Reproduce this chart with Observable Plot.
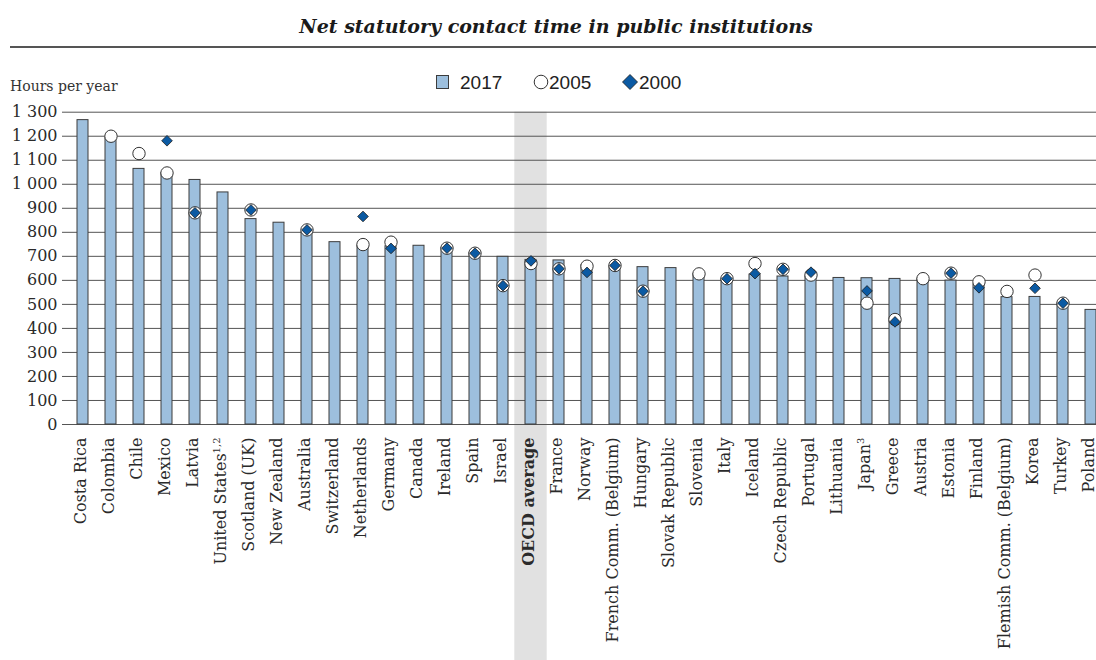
<!DOCTYPE html>
<html><head><meta charset="utf-8">
<script src="https://cdn.jsdelivr.net/npm/d3@7"></script>
<script src="https://cdn.jsdelivr.net/npm/@observablehq/plot@0.6"></script>
<style>
body{margin:0;background:#fff;}
#head svg, #chart svg{display:block}
</style>
</head><body>
<div id="head"></div>
<div id="chart"></div>
<script>
const countries = ["Costa Rica","Colombia","Chile","Mexico","Latvia","United States","Scotland (UK)","New Zealand","Australia","Switzerland","Netherlands","Germany","Canada","Ireland","Spain","Israel","OECD average","France","Norway","French Comm. (Belgium)","Hungary","Slovak Republic","Slovenia","Italy","Iceland","Czech Republic","Portugal","Lithuania","Japan","Greece","Austria","Estonia","Finland","Flemish Comm. (Belgium)","Korea","Turkey","Poland"];
const notes = ["","","","","","1,2","","","","","","","","","","","","","","","","","","","","","","","3","","","","","","","",""];
const v2017 = [1267,1192,1064,1047,1018,966,855,840,800,759,745,742,744,735,713,698,685,683,663,660,655,651,627,607,624,616,616,610,609,606,607,599,583,530,531,504,477];
const v2005 = [null,1200,1128,1047,881,null,893,null,810,null,749,759,null,734,713,578,670,648,659,662,555,null,627,607,670,646,622,null,505,437,607,630,594,554,622,505,null];
const v2000 = [null,null,null,1181,881,null,893,null,810,null,866,733,null,734,713,578,681,648,633,662,555,null,null,607,628,646,634,null,556,427,null,630,569,null,567,505,null];
const yTicks = [0,100,200,300,400,500,600,700,800,900,1000,1100,1200,1300];
const legendLabels = ["2017","2005","2000"];
const subtitle = "Net statutory contact time in public institutions";
const yUnit = "Hours per year";
const highlight = "OECD average";

const barFill = "#9dbfdd", barStroke = "#3c3c3c", diamondFill = "#0b5aa3";

// Header (subtitle, rule, legend, unit)
const head = d3.select("#head").append("svg").attr("width",1096).attr("height",100);
head.append("text").attr("x",556).attr("y",33).attr("text-anchor","middle")
  .attr("font-family","DejaVu Serif").attr("font-weight","bold").attr("font-style","italic")
  .attr("font-size",19).attr("fill","#1a1a1a").text(subtitle);
head.append("line").attr("x1",10).attr("x2",1096).attr("y1",47).attr("y2",47).attr("stroke","#555").attr("stroke-width",2);
const lg = head.append("g").attr("font-family","Liberation Sans").attr("font-size",19).attr("fill","#222");
lg.append("rect").attr("x",436.5).attr("y",75.5).attr("width",12).attr("height",13).attr("fill",barFill).attr("stroke",barStroke);
lg.append("text").attr("x",460).attr("y",89).text(legendLabels[0]);
lg.append("circle").attr("cx",541).attr("cy",82).attr("r",6.8).attr("fill","#fff").attr("stroke","#333");
lg.append("text").attr("x",549).attr("y",89).text(legendLabels[1]);
lg.append("path").attr("d","M630,74.5L637.5,82L630,89.5L622.5,82Z").attr("fill",diamondFill).attr("stroke","#1a1a1a").attr("stroke-width",0.8);
lg.append("text").attr("x",639).attr("y",89).text(legendLabels[2]);
head.append("text").attr("x",10).attr("y",91).attr("font-family","DejaVu Serif").attr("font-size",14).attr("fill","#333").text(yUnit);

const rows = countries.map((c,i)=>({country:c, note:notes[i], v2017:v2017[i], v2005:v2005[i], v2000:v2000[i]}));

const plot = Plot.plot({
  width:1096, height:560,
  marginTop:11.7, marginBottom:236, marginLeft:62, marginRight:0,
  style:{fontFamily:"DejaVu Serif", fontSize:"16px", color:"#2a2a2a", background:"transparent", overflow:"visible"},
  x:{domain:countries, range:[68,1104], paddingInner:0.62, paddingOuter:0.31},
  y:{domain:[0,1300]},
  marks:[
    Plot.barY([highlight], {x:d=>d, y1:0, y2:1300, fill:"#e1e1e1", insetLeft:-10.7, insetRight:-10.7, className:"avgband"}),
    Plot.ruleY(yTicks, {stroke:"#555", strokeWidth:1}),
    Plot.barY(rows, {x:"country", y:"v2017", fill:barFill, stroke:barStroke, strokeWidth:1}),
    Plot.dot(rows.filter(d=>d.v2005!=null), {x:"country", y:"v2005", r:6.2, fill:"#fff", stroke:"#333", strokeWidth:1}),
    Plot.dot(rows.filter(d=>d.v2000!=null), {x:"country", y:"v2000", symbol:"diamond2", r:4.8, fill:diamondFill, stroke:"#1a1a1a", strokeWidth:0.8}),
    Plot.axisY({ticks:yTicks, tickSize:0, tickPadding:5, label:null, tickFormat:d=>d3.format(",")(d).replace(","," ")}),
    Plot.axisX({tickRotate:-90, tickSize:0, tickPadding:13, label:null, dx:-2.5})
  ]
});
document.getElementById("chart").appendChild(plot);

// extend the highlight band down to the bottom of the figure
const svg = d3.select(plot);
svg.selectAll(".avgband rect").each(function(){
  const r = d3.select(this); const y = +r.attr("y");
  r.attr("height", 560 - y);
});
// bold highlight label and superscript notes
svg.selectAll('g[aria-label="x-axis tick label"] text').each(function(){
  const t = d3.select(this); const name = t.text();
  if (name === highlight) t.attr("font-weight","bold");
  const i = countries.indexOf(name);
  if (i >= 0 && notes[i]) t.append("tspan").attr("font-size",10).attr("dy",-6).text(notes[i]);
});
</script>
</body></html>
